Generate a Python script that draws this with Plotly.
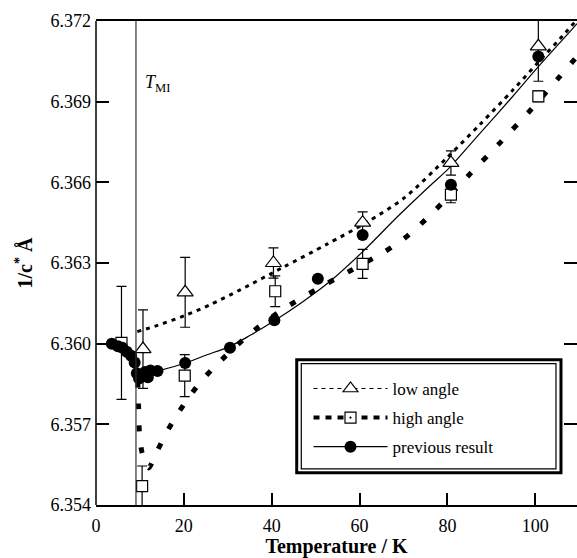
import plotly.graph_objects as go

# Metal-insulator transition temperature (K)
T_MI = 9.1

# Low-angle reflections: temperature (K), 1/c* (Å), uncertainty
low_T = [10.7, 20.3, 40.4, 60.7, 80.8, 100.7]
low_c = [6.35980, 6.36191, 6.36300, 6.36450, 6.36672, 6.37106]
low_err = [0.00146, 0.00130, 0.00056, 0.00040, 0.00045, 0.00130]

# High-angle reflections
high_T = [5.8, 10.5, 20.2, 40.8, 60.7, 80.8, 100.7]
high_c = [6.36003, 6.35470, 6.35881, 6.36195, 6.36297, 6.36554, 6.36920]
high_err = [0.00210, 0.00075, 0.00078, 0.00057, 0.00054, 0.00030, 0.00020]

# Previous result
prev_T = [3.6, 5.0, 6.0, 7.0, 8.0, 8.8, 9.3, 9.8, 10.4, 11.2, 11.8, 12.4, 14.0,
          20.3, 30.5, 40.6, 50.5, 60.7, 80.8, 100.7]
prev_c = [6.36000, 6.35990, 6.35985, 6.35970, 6.35955, 6.35930, 6.35890, 6.35870,
          6.35880, 6.35895, 6.35875, 6.35900, 6.35898, 6.35928, 6.35985, 6.36087,
          6.36241, 6.36404, 6.36591, 6.37068]

# Fitted curves
low_fit_T = [9.4, 14.0, 20.3, 26.0, 32.8, 42.7, 52.6, 62.0, 70.4, 79.8, 87.4, 95.0,
             100.3, 106.8, 109.5]
low_fit_c = [6.36045, 6.36068, 6.36105, 6.36145, 6.36200, 6.36285, 6.36370, 6.36455,
             6.36545, 6.36690, 6.36815, 6.36945, 6.37040, 6.37155, 6.37205]

high_fit_T = [9.5, 9.7, 9.9, 10.5, 12.0, 13.9, 16.0, 18.0, 20.5, 23.6, 27.1, 34.8,
              42.3, 50.3, 58.0, 65.5, 69.7, 73.3, 77.2, 84.6, 91.8, 99.0, 105.4, 109.5]
high_fit_c = [6.35860, 6.35760, 6.35660, 6.35594, 6.35538, 6.35600, 6.35668, 6.35724,
              6.35786, 6.35854, 6.35916, 6.36034, 6.36125, 6.36203, 6.36272, 6.36340,
              6.36385, 6.36435, 6.36496, 6.36622, 6.36744, 6.36870, 6.36990, 6.37068]

prev_fit_T = [3.6, 6.0, 8.0, 9.3, 10.5, 12.0, 14.0, 20.3, 25.0, 30.5, 35.0, 40.6,
              47.0, 53.3, 60.9, 68.5, 76.1, 80.2, 87.4, 95.0, 100.7, 108.3, 109.5]
prev_fit_c = [6.36000, 6.35985, 6.35960, 6.35910, 6.35880, 6.35890, 6.35898, 6.35928,
              6.35957, 6.35990, 6.36030, 6.36085, 6.36155, 6.36232, 6.36345, 6.36470,
              6.36588, 6.36650, 6.36782, 6.36922, 6.37030, 6.37168, 6.37190]

# Axis ticks
x_ticks = [0, 20, 40, 60, 80, 100]
y_ticks = [6.354, 6.357, 6.360, 6.363, 6.366, 6.369, 6.372]
x_range = [0, 109.5]
y_range = [6.354, 6.372]

FONT = "Liberation Serif"
LOW_LINE = dict(color="black", width=3, dash="4px,5px")
HIGH_LINE = dict(color="black", width=5, dash="6px,16px")
PREV_LINE = dict(color="black", width=1.2)

fig = go.Figure()

# fitted curves
fig.add_trace(go.Scatter(x=low_fit_T, y=low_fit_c, mode="lines", line=LOW_LINE,
                         line_shape="spline", line_smoothing=0.8,
                         showlegend=False, hoverinfo="skip"))
fig.add_trace(go.Scatter(x=high_fit_T, y=high_fit_c, mode="lines", line=HIGH_LINE,
                         line_shape="spline", line_smoothing=0.6,
                         showlegend=False, hoverinfo="skip"))
fig.add_trace(go.Scatter(x=prev_fit_T, y=prev_fit_c, mode="lines", line=PREV_LINE,
                         line_shape="spline", line_smoothing=0.8,
                         showlegend=False, hoverinfo="skip"))

err_style = dict(type="data", visible=True, color="black", thickness=1.2, width=5)

# measured points
fig.add_trace(go.Scatter(
    x=high_T, y=high_c, mode="markers", showlegend=False,
    marker=dict(symbol="square", size=11, color="white",
                line=dict(color="black", width=1.2)),
    error_y=dict(array=high_err, **err_style)))
fig.add_trace(go.Scatter(
    x=low_T, y=low_c, mode="markers", showlegend=False,
    marker=dict(symbol="triangle-up", size=14, color="white",
                line=dict(color="black", width=1.2)),
    error_y=dict(array=low_err, **err_style)))
fig.add_trace(go.Scatter(
    x=prev_T, y=prev_c, mode="markers", showlegend=False,
    marker=dict(symbol="circle", size=12, color="black")))

# empty trace on the right-hand axis so its ticks are drawn
fig.add_trace(go.Scatter(x=[None], y=[None], yaxis="y2", mode="markers",
                         showlegend=False, hoverinfo="skip"))

# legend entries
fig.add_trace(go.Scatter(x=[None], y=[None], mode="lines+markers", name="low angle",
                         legendgroup="a", line=dict(color="black", width=1.2, dash="4px,4px"),
                         marker=dict(symbol="triangle-up", size=13, color="white",
                                     line=dict(color="black", width=1.2))))
fig.add_trace(go.Scatter(x=[None], y=[None], mode="lines+markers", name="high angle",
                         legendgroup="b", line=dict(color="black", width=4, dash="6px,6px"),
                         marker=dict(symbol="square-dot", size=11, color="white",
                                     line=dict(color="black", width=1.2))))
fig.add_trace(go.Scatter(x=[None], y=[None], mode="lines+markers", name="previous result",
                         legendgroup="c", line=PREV_LINE,
                         marker=dict(symbol="circle", size=12, color="black")))

shapes = [
    # T_MI marker line
    dict(type="line", xref="x", yref="paper", x0=T_MI, x1=T_MI, y0=0, y1=1,
         line=dict(color="#333", width=1.2), layer="above"),
    # left axis line
    dict(type="line", xref="paper", yref="paper", x0=0, x1=0, y0=0, y1=1,
         line=dict(color="black", width=1.5), layer="above"),
    # legend frame (double border)
    dict(type="rect", xref="paper", yref="paper", x0=0.4173, x1=0.9667, y0=0.0665, y1=0.2999,
         line=dict(color="black", width=3), fillcolor="white", layer="above"),
    dict(type="rect", xref="paper", yref="paper", x0=0.4268, x1=0.9563, y0=0.0748, y1=0.2922,
         line=dict(color="black", width=1.2), layer="above"),
]

y_common = dict(range=y_range, tickvals=y_ticks, ticks="inside", ticklen=13,
                tickwidth=1.5, tickcolor="black", showline=False, showgrid=False,
                zeroline=False, automargin=False)

fig.update_layout(
    width=577, height=558,
    margin=dict(l=96, r=0, t=21, b=53),
    paper_bgcolor="white", plot_bgcolor="white",
    font=dict(family=FONT, color="black", size=18),
    shapes=shapes,
    annotations=[dict(x=T_MI, y=0.87, xref="x", yref="paper", xanchor="left", xshift=7,
                      yanchor="middle", showarrow=False,
                      text="<i>T</i><sub>MI</sub>", font=dict(family=FONT, size=18))],
    legend=dict(x=0.4418, y=0.277, xanchor="left", yanchor="top",
                bgcolor="rgba(0,0,0,0)", borderwidth=0, itemwidth=74,
                tracegroupgap=4, traceorder="grouped",
                font=dict(family=FONT, size=17, color="black")),
    xaxis=dict(range=x_range, tickvals=x_ticks, ticks="inside", ticklen=12,
               tickwidth=1.5, tickcolor="black", showline=True, linecolor="black",
               linewidth=1.5, mirror=True, showgrid=False, zeroline=False,
               automargin=False, ticklabelstandoff=4,
               tickfont=dict(family=FONT, size=18),
               title=dict(text="<b>Temperature / K</b>", standoff=8,
                          font=dict(family=FONT, size=20))),
    yaxis=dict(**y_common, tickformat=".3f", ticklabelstandoff=4,
               tickfont=dict(family=FONT, size=18),
               title=dict(text="<b>1/c<sup>*</sup> Å</b>", standoff=12,
                          font=dict(family=FONT, size=20))),
    yaxis2=dict(**y_common, overlaying="y", side="right", anchor="x",
                showticklabels=False),
)

fig.write_html("out.html")
